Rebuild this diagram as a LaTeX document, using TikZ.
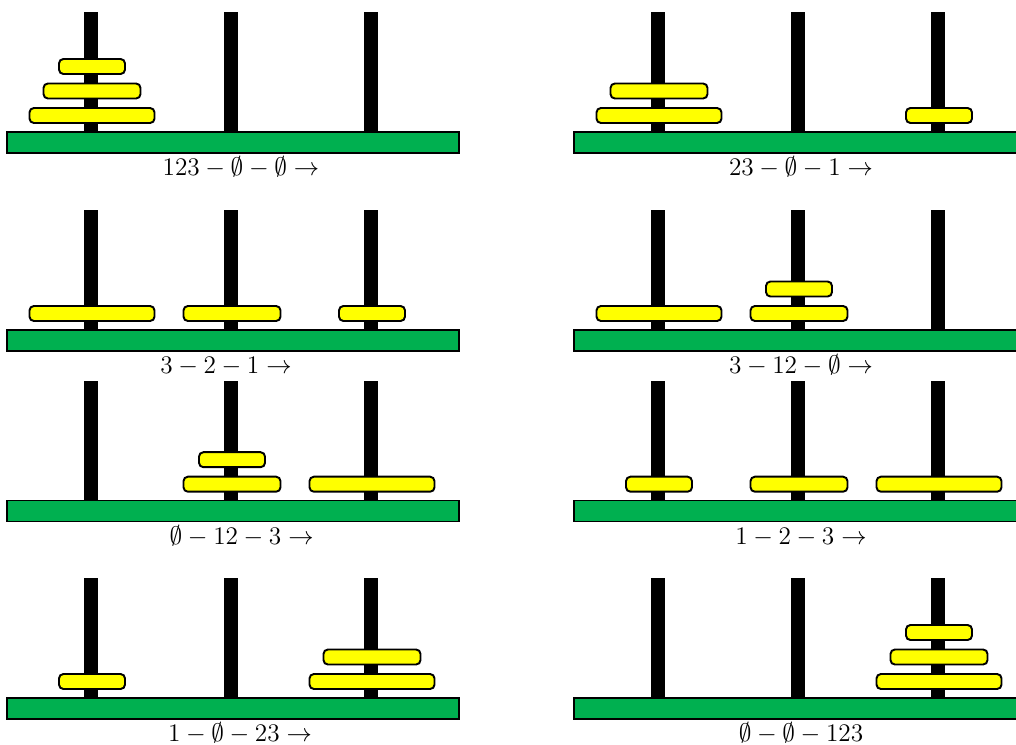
\documentclass[tikz,border=0pt]{standalone}
\usepackage{amsmath,amssymb}
\usepackage{tikz}
\usepackage{xcolor}
\definecolor{boardgreen}{HTML}{00B050}
\definecolor{ringyellow}{HTML}{FFFF00}
\tikzset{
  board/.style={fill=boardgreen,draw=black,line width=0.8pt},
  rod/.style={fill=black},
  ring/.style={fill=ringyellow,draw=black,line width=1.1pt,rounded corners=2.5pt},
  movelabel/.style={anchor=base,inner sep=0pt,font=\fontsize{14}{16}\selectfont},
}
% #1,#2 board corner, #3 rings as peg/level/width, #4 label x, #5 label, #6 name
\newcommand{\hanoistate}[6]{%
  \begin{scope}[shift={(#1,#2)}]
  \foreach \p in {0,1,2}
  {\fill[rod] ({84+140*\p-7},-120) rectangle ({84+140*\p+7},0);}
  \draw[board] (0,0) rectangle (452,21);
  \foreach \p/\l/\w in {#3}
  {\draw[ring] ({85+140*\p-\w/2},{-9-24.5*\l}) rectangle ({85+140*\p+\w/2},{-24-24.5*\l});}
  \node[movelabel] (#6) at (#4,43.5) {#5};
  \end{scope}}

\begin{document}
\begin{tikzpicture}[x=0.02cm,y=-0.02cm]
\clip (0,0) rectangle (1016,744);
\hanoistate{7}{132}{0/0/125,0/1/97,0/2/66}{234}{$123-\emptyset-\emptyset\rightarrow$}{state1}
\hanoistate{574}{132}{0/0/125,0/1/97,2/0/66}{227}{$23-\emptyset-1\rightarrow$}{state2}
\hanoistate{7}{330}{0/0/125,1/0/97,2/0/66}{219}{$3-2-1\rightarrow$}{state3}
\hanoistate{574}{330}{0/0/125,1/0/97,1/1/66}{227}{$3-12-\emptyset\rightarrow$}{state4}
\hanoistate{7}{500.7}{1/0/97,1/1/66,2/0/125}{234.7}{$\emptyset-12-3\rightarrow$}{state5}
\hanoistate{574}{500.7}{0/0/66,1/0/97,2/0/125}{227}{$1-2-3\rightarrow$}{state6}
\hanoistate{7}{698}{0/0/66,2/0/125,2/1/97}{233}{$1-\emptyset-23\rightarrow$}{state7}
\hanoistate{574}{698}{2/0/125,2/1/97,2/2/66}{227}{$\emptyset-\emptyset-123$}{state8}
\end{tikzpicture}
\end{document}
